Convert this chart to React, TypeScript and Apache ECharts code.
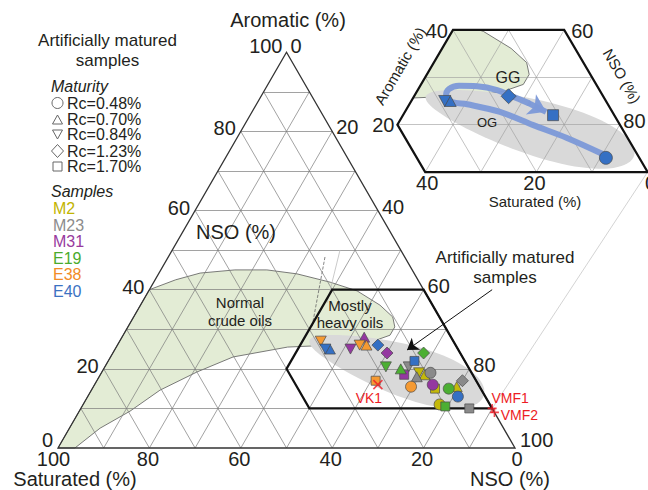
import React, { useEffect, useRef } from "react";
import * as echarts from "echarts";

// ---------------- Data (ternary %, [Saturated, Aromatic, NSO, maturity index]) ----------------
const MATURITY_LABELS = ["Rc=0.48%", "Rc=0.70%", "Rc=0.84%", "Rc=1.23%", "Rc=1.70%"];
const SAMPLE_NAMES = ["M2", "M23", "M31", "E19", "E38", "E40"];

const M2 = [[11, 11, 78, 0], [10.5, 18.5, 71, 1], [5, 15.5, 79.5, 1], [11.5, 19, 69.5, 2], [10, 15, 75, 4]];
const M23 = [[9, 19, 72, 0], [12.5, 18, 69.5, 1], [13, 20.5, 66.5, 2], [3, 17, 80, 3], [5, 10, 85, 4]];
const M31 = [[10, 16, 74, 0], [19, 28, 53, 1], [23.5, 25, 51.5, 2], [16, 24, 60, 3], [15, 18.5, 66.5, 4]];
const E19 = [[7, 15, 78, 0], [15, 20, 65, 1], [18, 20.5, 61.5, 2], [8, 24, 68, 3], [10, 10.5, 79.5, 4]];
const E38 = [[15, 15.5, 69.5, 0], [19.5, 26, 54.5, 1], [29, 27, 44, 2], [21, 26, 53, 2], [22, 17, 61, 4]];
const E40 = [[6, 13, 81, 0], [28, 25, 47, 1], [29, 25, 46, 2], [17, 26, 57, 3], [11, 22, 67, 4]];

const VK1 = [22, 16, 62];
const VMF1 = [0, 10, 90];
const VMF2 = [0, 9, 91];

const AXIS_TICKS = [0, 20, 40, 60, 80, 100];
const GRID_STEPS = [10, 20, 30, 40, 50, 60, 70, 80, 90];
const INSET_AROMATIC_TICKS = [20, 40];
const INSET_NSO_TICKS = [60, 80];
const INSET_SATURATED_TICKS = [0, 20, 40];

// field outlines (ternary %)
const OIL_FIELD = [
  [100, 0, 0], [60, 40, 0], [53, 42.5, 4.5], [46.8, 44.2, 9], [38.8, 45, 16.2], [31.8, 45, 23.2],
  [25.7, 44, 30.3], [19.5, 41.9, 38.6], [14.7, 39.7, 45.6], [11.5, 36.1, 52.4], [10.2, 33.1, 56.7],
  [11, 30.6, 58.4], [13.1, 28.5, 58.4], [17.5, 27, 55.5], [24, 26, 50], [31, 25.8, 43.2], [37, 25.5, 37.5],
  [50.2, 23, 26.8], [60, 19.2, 20.8], [70.4, 14.6, 15], [79.6, 9.3, 11.1], [88.3, 5, 6.7], [96.3, 0, 3.7],
];
const ZOOM_WINDOW = [[20, 40, 40], [0, 40, 60], [0, 10, 90], [40, 10, 50], [40, 20, 40]];
const MATURATION_PATH = [
  [5.9, 13.6, 80.5], [10.9, 17.2, 71.9], [15.6, 19.9, 64.5], [20.2, 22.7, 57.1], [25.3, 24.3, 50.4],
  [27.8, 24.8, 47.4], [28.2, 26.1, 45.7], [27, 27.5, 45.5], [24.8, 28.2, 47], [21.6, 28.1, 50.3],
  [18.4, 27.3, 54.3], [16.4, 26, 57.6], [14.2, 24.6, 61.2],
];
const MATURATION_TIP = [11.9, 22.7, 65.4];

// ---------------- styling ----------------
const FONT = '"Liberation Sans", Arial, Helvetica, sans-serif';
const INK = "#231f20";
const RED = "#ed1c24";
const SAMPLE_FILL: Record<string, string> = {
  M2: "#c4b90a", M23: "#8a8a8a", M31: "#9437a0", E19: "#4caf33", E38: "#f59a32", E40: "#3570c4",
};
const SAMPLE_TEXT: Record<string, string> = {
  M2: "#c2b400", M23: "#8c8c8c", M31: "#983a9e", E19: "#4aab2c", E38: "#f28c25", E40: "#3b72c2",
};
const SYMBOLS = [
  { symbol: "circle", size: [11, 11], rotate: 0 },
  { symbol: "triangle", size: [11, 10], rotate: 0 },
  { symbol: "triangle", size: [11, 10], rotate: 180 },
  { symbol: "diamond", size: [12, 12], rotate: 0 },
  { symbol: "rect", size: [9, 9], rotate: 0 },
];
const INSET_SYMBOLS = [
  { symbol: "circle", size: [13, 13], rotate: 0 },
  { symbol: "triangle", size: [12, 11], rotate: 0 },
  { symbol: "triangle", size: [12, 11], rotate: 180 },
  { symbol: "diamond", size: [15, 15], rotate: 0 },
  { symbol: "rect", size: [11, 11], rotate: 0 },
];

// ---------------- geometry helpers ----------------
const SQ = Math.sqrt(3) / 2;
type Tern = number[];
function norm(t: Tern): Tern {
  const s = t[0] + t[1] + t[2];
  return [(t[0] * 100) / s, (t[1] * 100) / s, (t[2] * 100) / s];
}
function uv(t: Tern): [number, number] {
  const n = norm(t);
  const a = n[1] / 100, c = n[2] / 100;
  return [c + a / 2, a * SQ];
}
function fromUV(u: number, v: number): Tern {
  const a = v / SQ;
  const n = u - a / 2;
  return [(1 - a - n) * 100, a * 100, n * 100];
}
const lerp = (p: Tern, q: Tern, t: number) => p.map((x, i) => x + (q[i] - x) * t);
const INSET_BOUNDS: ((p: Tern) => number)[] = [
  (p) => p[1] - 10, (p) => 40 - p[1], (p) => p[0], (p) => 40 - p[0], (p) => p[2] - 40,
];
function clipPolygon(poly: Tern[]): Tern[] {
  let out = poly.map(norm);
  for (const f of INSET_BOUNDS) {
    const inp = out;
    out = [];
    for (let i = 0; i < inp.length; i++) {
      const cur = inp[i], prev = inp[(i + inp.length - 1) % inp.length];
      const fc = f(cur), fp = f(prev);
      if (fc >= 0) {
        if (fp < 0) out.push(lerp(prev, cur, fp / (fp - fc)));
        out.push(cur);
      } else if (fp >= 0) out.push(lerp(prev, cur, fp / (fp - fc)));
    }
  }
  return out;
}
function clipSegment(p0: Tern, p1: Tern): Tern[] | null {
  let t0 = 0, t1 = 1;
  for (const f of INSET_BOUNDS) {
    const f0 = f(p0), f1 = f(p1);
    if (Math.abs(f0) < 1e-9 && Math.abs(f1) < 1e-9) return null;
    if (f0 < 0 && f1 < 0) return null;
    if (f0 < 0) t0 = Math.max(t0, f0 / (f0 - f1));
    if (f1 < 0) t1 = Math.min(t1, f0 / (f0 - f1));
  }
  if (t1 - t0 < 1e-6) return null;
  return [lerp(p0, p1, t0), lerp(p0, p1, t1)];
}
function eggShape(center: Tern, a: number, b: number, e: number, deg: number): Tern[] {
  const [cu, cv] = uv(center);
  const th = (deg * Math.PI) / 180;
  const pts: Tern[] = [];
  for (let i = 0; i < 90; i++) {
    const t = (2 * Math.PI * i) / 90;
    const du = a * Math.cos(t);
    const dv = b * Math.sin(t) * (1 + e * Math.cos(t));
    pts.push(fromUV(cu + du * Math.cos(th) - dv * Math.sin(th), cv + du * Math.sin(th) + dv * Math.cos(th)));
  }
  return pts;
}
function gridSegments(): Tern[][] {
  const segs: Tern[][] = [];
  for (const g of GRID_STEPS) {
    segs.push([[100 - g, g, 0], [0, g, 100 - g]]);
    segs.push([[g, 100 - g, 0], [g, 0, 100 - g]]);
    segs.push([[100 - g, 0, g], [0, 100 - g, g]]);
  }
  return segs;
}

// pixel frames of the two plots (used for the axes' extents)
const MAIN = { x0: 58, y0: 448, kx: 457, ky: 457 };
const INSET = { x0: 119.4, y0: 219.4, kx: 556, ky: 547 };
const insetToMain = (p: [number, number]): [number, number] => {
  const px = INSET.x0 + INSET.kx * p[0], py = INSET.y0 - INSET.ky * p[1];
  return [(px - MAIN.x0) / MAIN.kx, (MAIN.y0 - py) / MAIN.ky];
};

// ---------------- series builders ----------------
function polygonSeries(grid: number, pts: Tern[], style: any, z: number) {
  const P = pts.map(uv);
  return {
    type: "custom", coordinateSystem: "cartesian2d", xAxisIndex: grid, yAxisIndex: grid,
    silent: true, z, clip: false, data: [P[0]],
    renderItem: (_p: any, api: any) => ({
      type: "polygon", shape: { points: P.map((q) => api.coord(q)) }, style,
    }),
  };
}
function segSeries(grid: number, segs: [number, number][][], color: string, width: number, z: number, type = "solid") {
  return {
    type: "lines", coordinateSystem: "cartesian2d", xAxisIndex: grid, yAxisIndex: grid,
    silent: true, z, symbol: "none",
    lineStyle: { color, width, opacity: 1, type, curveness: 0 },
    data: segs.map((s) => ({ coords: s })),
  };
}
function pathSeries(grid: number, pts: Tern[], color: string, width: number, z: number, closed = false) {
  const P = pts.map(uv);
  const data = closed ? [...P, P[0], P[1]] : P;
  return {
    type: "line", xAxisIndex: grid, yAxisIndex: grid, silent: true, z, symbol: "none",
    lineStyle: { color, width, join: "miter" }, data, animation: false,
  };
}
type TextItem = { at: Tern; text: string; dx?: number; dy?: number; align?: string; size?: number; color?: string };
function textSeries(grid: number, items: TextItem[], z = 20) {
  return {
    type: "custom", coordinateSystem: "cartesian2d", xAxisIndex: grid, yAxisIndex: grid,
    silent: true, z, clip: false, data: items.map((it) => uv(it.at)),
    renderItem: (params: any, api: any) => {
      const it = items[params.dataIndex];
      const p = api.coord([api.value(0), api.value(1)]);
      return {
        type: "text", x: p[0] + (it.dx || 0), y: p[1] + (it.dy || 0),
        style: {
          text: it.text, fill: it.color || INK, fontSize: it.size || 20, fontFamily: FONT,
          align: it.align || "center", textAlign: it.align || "center",
          verticalAlign: "middle", textVerticalAlign: "middle",
        },
      };
    },
  };
}
function markerSeries(grid: number, name: string, pts: number[][], symbols: any[], z: number) {
  return {
    type: "scatter", name, xAxisIndex: grid, yAxisIndex: grid, z, silent: true,
    itemStyle: { color: SAMPLE_FILL[name], borderColor: "#4a4a4a", borderWidth: 0.7, opacity: 1 },
    data: pts.map((p) => {
      const s = symbols[p[3]];
      return { value: uv(p), symbol: s.symbol, symbolSize: s.size, symbolRotate: s.rotate };
    }),
  };
}

function gtext(x: number, y: number, text: string, opts: any = {}) {
  return {
    type: "text", x, y, rotation: opts.rotation || 0, silent: true, z: 50,
    style: {
      text, fill: opts.color || INK, fontSize: opts.size || 16, fontFamily: FONT,
      fontStyle: opts.italic ? "italic" : "normal",
      align: opts.align || "center", textAlign: opts.align || "center",
      verticalAlign: "middle", textVerticalAlign: "middle",
    },
  };
}

function buildOption() {
  const samples: Record<string, number[][]> = { M2, M23, M31, E19, E38, E40 };
  const series: any[] = [];

  // ---------- main triangle ----------
  series.push(polygonSeries(0, OIL_FIELD, { fill: "#e3ecd5", stroke: "#5a5a5a", lineWidth: 0.8 }, 1));
  series.push(polygonSeries(0, eggShape([15.8, 20.2, 64], 0.2, 0.056, 0.3, -17.5), { fill: "#d9d9d9" }, 2));
  series.push(segSeries(0, gridSegments().map((s) => s.map(uv)) as any, "#7a7a7a", 0.7, 3));
  series.push(pathSeries(0, [[100, 0, 0], [0, 100, 0], [0, 0, 100]], "#333", 1.3, 4, true));
  series.push(pathSeries(0, ZOOM_WINDOW, "#111", 2.2, 5, true));
  // connector lines towards the inset
  series.push(segSeries(0, [[insetToMain(uv([0, 10, 90])), uv([0, 10, 90])]] as any, "#c8c8c8", 0.8, 3));
  series.push(segSeries(0, [[uv([17.45, 48.26, 34.29]), uv([29.14, 30.57, 40.29])]] as any, "#666", 0.8, 3, "dashed"));
  series.push(segSeries(0, [[uv([13.27, 50.03, 36.7]), uv([22.83, 36.63, 40.54])]] as any, "#bdbdbd", 0.8, 3));

  SAMPLE_NAMES.forEach((n, i) => series.push(markerSeries(0, n, samples[n], SYMBOLS, 10 + i)));

  series.push({
    type: "scatter", xAxisIndex: 0, yAxisIndex: 0, z: 17, silent: true,
    itemStyle: { color: "none", borderColor: RED, borderWidth: 1.6 },
    data: [
      { value: uv(VK1), symbol: "path://M0 0L10 10M10 0L0 10", symbolSize: 9 },
      { value: uv(VMF1), symbol: "path://M5 0L5 10M0 5L10 5", symbolSize: 9 },
      { value: uv(VMF2), symbol: "path://M5 0L5 10M0 5L10 5", symbolSize: 9 },
    ],
  });
  series.push(textSeries(0, [
    { at: VK1, text: "VK1", dx: -9, dy: 13, size: 14, color: RED },
    { at: VMF1, text: "VMF1", dx: 18, dy: -10, size: 14, color: RED },
    { at: VMF2, text: "VMF2", dx: 25, dy: 3, size: 14, color: RED },
  ]));
  // annotation arrow "Artificially matured samples"
  series.push({
    type: "lines", coordinateSystem: "cartesian2d", xAxisIndex: 0, yAxisIndex: 0, silent: true, z: 18,
    symbol: ["none", "arrow"], symbolSize: 11,
    lineStyle: { color: "#111", width: 1, opacity: 1, curveness: 0 },
    data: [{ coords: [uv([-15, 40, 75]), uv([11.25, 24.75, 64])] }],
  });

  // tick labels main
  const ticks: TextItem[] = [];
  for (const a of AXIS_TICKS) {
    const end = a === 0 || a === 100;
    ticks.push({ at: [100 - a, a, 0], text: String(a), align: "right", dx: a === 100 ? -4 : -5, dy: a === 0 ? -8 : end ? -6 : -3 });
  }
  for (const n of AXIS_TICKS) {
    const end = n === 0 || n === 100;
    ticks.push({ at: [0, 100 - n, n], text: String(n), align: "left", dx: n === 100 ? 5 : 4, dy: n === 100 ? -8 : end ? -6 : -4 });
  }
  for (const s of AXIS_TICKS) {
    ticks.push({ at: [s, 0, 100 - s], text: String(s), align: "center", dx: s === 100 ? -4.5 : s === 0 ? 2 : -1.5, dy: 11 });
  }
  series.push(textSeries(0, ticks));

  // ---------- inset ----------
  series.push(polygonSeries(1, clipPolygon(OIL_FIELD), { fill: "#e3ecd5", stroke: "#5a5a5a", lineWidth: 0.8 }, 1));
  series.push(polygonSeries(1, clipPolygon(eggShape([16.3, 19.7, 64], 0.195, 0.05, 0.25, -16)), { fill: "#d9d9d9" }, 2));
  const insetSegs = gridSegments().map((s) => clipSegment(norm(s[0]), norm(s[1]))).filter(Boolean) as Tern[][];
  series.push(segSeries(1, insetSegs.map((s) => s.map(uv)) as any, "#9a9a9a", 0.6, 3));
  series.push(pathSeries(1, ZOOM_WINDOW, "#111", 2.2, 5, true));
  series.push({
    type: "line", xAxisIndex: 1, yAxisIndex: 1, silent: true, z: 8, symbol: "none", smooth: 0.35,
    lineStyle: { color: "#7c99d8", width: 6, cap: "round", opacity: 0.95 },
    data: MATURATION_PATH.map(uv),
  });
  series.push({
    type: "lines", coordinateSystem: "cartesian2d", xAxisIndex: 1, yAxisIndex: 1, silent: true, z: 8,
    symbol: ["none", "arrow"], symbolSize: 17,
    lineStyle: { color: "#7c99d8", width: 6, opacity: 0.95, curveness: 0 },
    data: [{ coords: [uv(MATURATION_PATH[MATURATION_PATH.length - 1]), uv(MATURATION_TIP)] }],
  });
  series.push(markerSeries(1, "E40", E40, INSET_SYMBOLS, 12));
  const insetTicks: TextItem[] = [];
  INSET_AROMATIC_TICKS.forEach((a) =>
    insetTicks.push({ at: [60 - a, a, 40], text: String(a), align: "right", dx: a === 40 ? -5 : -3, dy: a === 40 ? 1 : 0 }));
  INSET_NSO_TICKS.forEach((n) =>
    insetTicks.push({ at: [0, 100 - n, n], text: String(n), align: "left", dx: n === 60 ? 7 : 3.5, dy: n === 60 ? 1 : -4 }));
  INSET_SATURATED_TICKS.forEach((s) =>
    insetTicks.push({ at: [s, 10, 90 - s], text: String(s), align: "center", dx: s === 40 ? 2 : s === 0 ? 3 : -2, dy: 11 }));
  series.push(textSeries(1, insetTicks));

  // ---------- graphic texts (titles, legend, labels) ----------
  const g: any[] = [];
  g.push(gtext(288, 20, "Aromatic (%)", { size: 20 }));
  g.push(gtext(75, 478.5, "Saturated (%)", { size: 20 }));
  g.push(gtext(510, 478.5, "NSO (%)", { size: 20 }));
  g.push(gtext(236, 232, "NSO (%)", { size: 20 }));
  g.push(gtext(240, 302, "Normal", { size: 15 }));
  g.push(gtext(240, 320, "crude oils", { size: 15 }));
  g.push(gtext(350, 305, "Mostly", { size: 15 }));
  g.push(gtext(350, 322, "heavy oils", { size: 15 }));
  g.push(gtext(505, 257, "Artificially matured", { size: 17 }));
  g.push(gtext(505, 277, "samples", { size: 17 }));
  g.push(gtext(535, 201, "Saturated (%)", { size: 15 }));
  g.push(gtext(400, 66, "Aromatic (%)", { size: 15, rotation: Math.PI / 3 }));
  g.push(gtext(622, 76, "NSO (%)", { size: 15, rotation: -Math.PI / 3 }));
  g.push(gtext(508, 77, "GG", { size: 16 }));
  g.push(gtext(487, 122, "OG", { size: 13 }));

  // legend
  g.push(gtext(107.5, 40, "Artificially matured", { size: 17 }));
  g.push(gtext(107.5, 60, "samples", { size: 17 }));
  g.push(gtext(51, 86, "Maturity", { size: 16, italic: true, align: "left" }));
  const rowY = [103, 119, 134.5, 151, 166.5];
  const ls = { fill: "none", stroke: "#666", lineWidth: 1 };
  g.push({ type: "circle", shape: { cx: 57.5, cy: rowY[0], r: 5.5 }, style: ls, silent: true });
  g.push({ type: "polygon", shape: { points: [[52.5, 124], [62.5, 124], [57.5, 115]] }, style: ls, silent: true });
  g.push({ type: "polygon", shape: { points: [[52.5, 130], [62.5, 130], [57.5, 139]] }, style: ls, silent: true });
  g.push({ type: "polygon", shape: { points: [[51.5, 151], [57.5, 144.5], [63.5, 151], [57.5, 157.5]] }, style: ls, silent: true });
  g.push({ type: "rect", shape: { x: 53, y: 162, width: 9, height: 9 }, style: ls, silent: true });
  MATURITY_LABELS.forEach((t, i) => g.push(gtext(67, rowY[i], t, { size: 16, align: "left" })));
  g.push(gtext(51, 191, "Samples", { size: 16, italic: true, align: "left" }));
  const sy = [208, 225, 241.5, 258, 274.5, 291];
  SAMPLE_NAMES.forEach((n, i) => g.push(gtext(53, sy[i], n, { size: 16, align: "left", color: SAMPLE_TEXT[n] })));

  return {
    animation: false,
    backgroundColor: "#ffffff",
    grid: [
      { left: 0, top: 0, width: 648, height: 490 },
      { left: 0, top: 0, width: 648, height: 490 },
    ],
    xAxis: [
      { gridIndex: 0, type: "value", min: -MAIN.x0 / MAIN.kx, max: (648 - MAIN.x0) / MAIN.kx, show: false },
      { gridIndex: 1, type: "value", min: -INSET.x0 / INSET.kx, max: (648 - INSET.x0) / INSET.kx, show: false },
    ],
    yAxis: [
      { gridIndex: 0, type: "value", min: -(490 - MAIN.y0) / MAIN.ky, max: MAIN.y0 / MAIN.ky, show: false },
      { gridIndex: 1, type: "value", min: -(490 - INSET.y0) / INSET.ky, max: INSET.y0 / INSET.ky, show: false },
    ],
    series,
    graphic: { elements: g },
  };
}

export default function App() {
  const ref = useRef<HTMLDivElement>(null);
  useEffect(() => {
    const chart = echarts.init(ref.current!, null, { renderer: "svg" });
    chart.setOption(buildOption() as any);
    return () => chart.dispose();
  }, []);
  return (
    <div
      ref={ref}
      style={{ position: "fixed", left: 0, top: 0, width: 648, height: 490, background: "#fff" }}
    />
  );
}
